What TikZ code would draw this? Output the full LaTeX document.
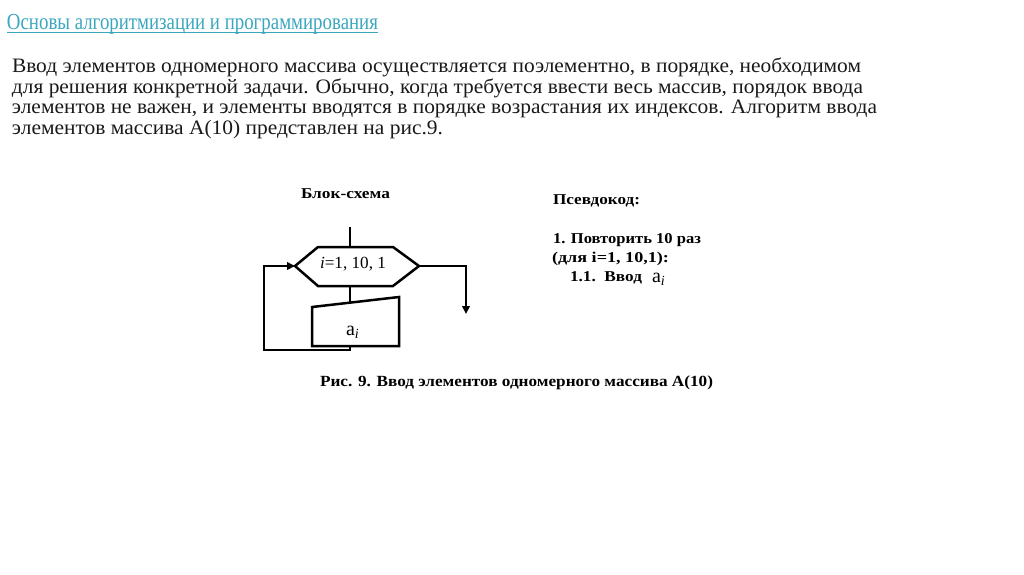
\documentclass[tikz,border=0pt]{standalone}
\usepackage{fontspec}
\setmainfont{Liberation Serif}
\usepackage{graphicx}
\usetikzlibrary{arrows.meta}
\definecolor{titleblue}{HTML}{3BA7BF}
\definecolor{bodyink}{HTML}{1A1A1A}
\newlength\natw
\newcommand\fitw[2]{\settowidth\natw{#2}\pgfmathsetmacro\fitsc{#1/\natw}\scalebox{\fitsc}[1]{#2}}
\begin{document}
\begin{tikzpicture}[x=1pt,y=-1pt,
  txt/.style={anchor=base west,inner sep=0pt,outer sep=0pt},
  bodytxt/.style={txt,text=bodyink,font=\fontsize{20.5}{22}\selectfont},
  codetxt/.style={txt,text=black,font=\fontsize{15}{17}\selectfont\bfseries},
  flow/.style={line width=2.5pt,black,line join=miter},
  arr/.style={flow,-{Triangle[length=8pt,width=7.5pt]}}]
\fill[white] (0,0) rectangle (1024,574);
\useasboundingbox (0,0) rectangle (1024,574);
% title
\node[txt,text=titleblue,font=\fontsize{23}{25}\selectfont] (title) at (7,29.5) {\fitw{371pt}{Основы алгоритмизации и программирования}};
\draw[titleblue,line width=1pt] ([yshift=-3pt]title.base west) -- ([yshift=-3pt]title.base east);
% body text
\node[bodytxt] (l1) at (12,72.5) {\fitw{849pt}{Ввод элементов одномерного массива осуществляется поэлементно, в порядке, необходимом}};
\node[bodytxt] (l2) at (12,93.2) {\fitw{851pt}{для решения конкретной задачи. Обычно, когда требуется ввести весь массив, порядок ввода}};
\node[bodytxt] (l3) at (12,113.9) {\fitw{865pt}{элементов не важен, и элементы вводятся в порядке возрастания их индексов. Алгоритм ввода}};
\node[bodytxt] (l4) at (12,134.5) {\fitw{431pt}{элементов массива A(10) представлен на рис.9.}};
% flowchart heading
\node[codetxt] (bs) at (301,198) {\fitw{89pt}{Блок-схема}};
% hexagon (loop)
\coordinate (hL) at (295,266);
\coordinate (hTL) at (318,247);
\coordinate (hTR) at (393,247);
\coordinate (hR) at (419,266);
\coordinate (hBR) at (393,286);
\coordinate (hBL) at (318,286);
\coordinate (hT) at (350,247);
\coordinate (hB) at (350,286);
\draw[flow] (hL) -- (hTL) -- (hTR) -- (hR) -- (hBR) -- (hBL) -- cycle;
\node[txt,font=\fontsize{17}{19}\selectfont] (loop) at (320,268.5) {\fitw{66pt}{\textit{i}=1, 10, 1}};
% input block
\coordinate (tTL) at (312,307);
\coordinate (tTR) at (399,297);
\coordinate (tBR) at (399,346);
\coordinate (tBL) at (312,346);
\coordinate (tT) at (350,302.6);
\coordinate (tB) at (350,346);
\draw[flow] (tTL) -- (tTR) -- (tBR) -- (tBL) -- cycle;
\node[txt,font=\fontsize{20}{22}\selectfont] (ai) at (346,335) {a\textsubscript{\textit{i}}};
% connectors
\coordinate (entry) at (350,227);
\coordinate (exit) at (466,314);
\coordinate (loopB) at (264,350);
\draw[flow] (entry) -- (hT);
\draw[flow] (hB) -- (tT);
\draw[arr] (tB) -- (tB |- loopB) -- (loopB) -- (loopB |- hL) -- (hL);
\draw[arr] (hR) -- (hR -| exit) -- (exit);
% pseudocode
\node[codetxt] (pc0) at (553,204) {\fitw{87pt}{Псевдокод:}};
\node[codetxt] (pc1) at (553,243) {\fitw{148pt}{1. Повторить 10 раз}};
\node[codetxt] (pc2) at (552,262) {\fitw{117pt}{(для i=1, 10,1):}};
\node[codetxt] (pc3) at (570,281) {\fitw{72pt}{1.1.\ \ Ввод}};
\node[txt,font=\fontsize{20}{22}\selectfont] (pcai) at (652,282) {a\textsubscript{\textit{i}}};
% caption
\node[codetxt,font=\fontsize{15.5}{17}\selectfont\bfseries] (cap) at (320,386) {\fitw{393pt}{Рис. 9. Ввод элементов одномерного массива A(10)}};
\end{tikzpicture}
\end{document}
